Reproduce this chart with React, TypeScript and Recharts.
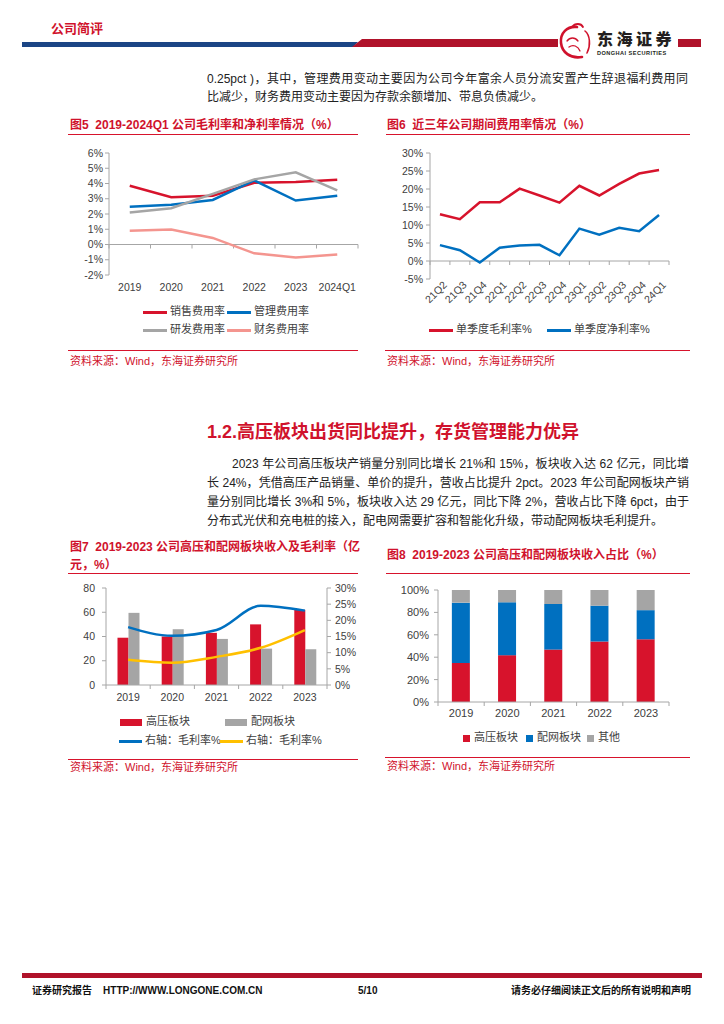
import React from 'react';
import { LineChart, Line, XAxis, YAxis, ReferenceLine, ComposedChart, Bar, BarChart } from 'recharts';

const FONT = '"Liberation Sans", Arial, "Noto Sans CJK SC", sans-serif';
const TITLE_RED = '#d0122c';
const DARK_RED = '#b0122a';
const NAVY = '#1b4585';
const C_RED = '#d7132c';
const C_BLUE = '#0070c0';
const C_GRAY = '#a5a5a5';
const C_PINK = '#f4958f';
const C_YELLOW = '#ffc000';
const AXIS = '#a6a6a6';
const TXT = '#404040';

// 图5 期间费用率
const years5 = ['2019', '2020', '2021', '2022', '2023', '2024Q1'];
const sales5 = [3.85, 3.1, 3.2, 4.05, 4.1, 4.25];
const admin5 = [2.48, 2.6, 2.92, 4.2, 2.88, 3.2];
const rd5 = [2.1, 2.38, 3.32, 4.27, 4.73, 3.55];
const fin5 = [0.9, 0.98, 0.43, -0.58, -0.85, -0.66];
const ticks5 = [-2, -1, 0, 1, 2, 3, 4, 5, 6];

// 图6 单季度毛利率/净利率
const quarters6 = ['21Q2', '21Q3', '21Q4', '22Q1', '22Q2', '22Q3', '22Q4', '23Q1', '23Q2', '23Q3', '23Q4', '24Q1'];
const gross6 = [13.0, 11.6, 16.3, 16.3, 20.1, 18.2, 16.2, 20.9, 18.2, 21.4, 24.3, 25.3];
const net6 = [4.4, 3.0, -0.4, 3.7, 4.3, 4.5, 1.6, 9.0, 7.3, 9.2, 8.3, 12.8];
const ticks6 = [-5, 0, 5, 10, 15, 20, 25, 30];

// 图7 高压/配网板块收入(亿元)及毛利率
const years7 = ['2019', '2020', '2021', '2022', '2023'];
const hv7 = [39, 40, 43, 50, 62];
const dist7 = [59.5, 46, 38, 30, 29.5];
const hvMargin7 = [17.9, 15.2, 17.0, 24.5, 23.0];
const distMargin7 = [7.8, 6.9, 8.7, 11.5, 17.0];
const ticksL7 = [0, 20, 40, 60, 80];
const ticksR7 = [0, 5, 10, 15, 20, 25, 30];

// 图8 收入占比
const hvShare8 = [34.8, 41.8, 46.8, 54, 56];
const distShare8 = [53.9, 47.2, 40.7, 32, 26];
const otherShare8 = [11.3, 11, 12.5, 14, 18];
const ticks8 = [0, 20, 40, 60, 80, 100];

const data5 = years5.map((year, i) => ({ year, sales: sales5[i], admin: admin5[i], rd: rd5[i], fin: fin5[i] }));
const data6 = quarters6.map((q, i) => ({ q, gross: gross6[i], net: net6[i] }));
const data7 = years7.map((year, i) => ({ year, hv: hv7[i], dist: dist7[i], hvM: hvMargin7[i], distM: distMargin7[i] }));
const data8 = years7.map((year, i) => ({ year, hv: hvShare8[i], dist: distShare8[i], other: otherShare8[i] }));

const TICK = { fill: TXT, fontSize: 10.5, fontFamily: FONT };

// category axis line with tick marks between categories (like excel)
const bandAxis = (count: number, len: number) => (props: any) => {
  const { x1, x2, y1 } = props;
  const step = (x2 - x1) / count;
  return (
    <g>
      <line x1={x1} x2={x2} y1={y1} y2={y1} stroke={AXIS} strokeWidth={1} />
      {Array.from({ length: count + 1 }, (_, i) => (
        <line key={i} x1={x1 + i * step} x2={x1 + i * step} y1={y1} y2={y1 + len} stroke={AXIS} strokeWidth={1} />
      ))}
    </g>
  );
};

const RotTick = (props: any) => {
  const { x, y, payload } = props;
  return (
    <g transform={`translate(${x + 5},${y})`}>
      <text transform="rotate(-45)" textAnchor="end" dy="0.35em" fontSize={10.5} fill={TXT} fontFamily={FONT}>
        {payload.value}
      </text>
    </g>
  );
};

const T: React.FC<{ x: number; cy: number; size: number; color?: string; bold?: boolean; w?: number; children: React.ReactNode }> = ({ x, cy, size, color = '#222', bold, w, children }) => (
  <div
    style={{
      position: 'absolute',
      left: x,
      top: cy - size * 0.7,
      fontSize: size,
      lineHeight: `${size * 1.4}px`,
      color,
      fontWeight: bold ? 700 : 400,
      whiteSpace: 'nowrap',
      width: w,
      textAlign: w ? 'justify' : 'left',
      textAlignLast: w ? 'justify' : 'auto',
    } as React.CSSProperties}
  >
    {children}
  </div>
);

const HLine: React.FC<{ x1: number; x2: number; y: number; color?: string; h?: number }> = ({ x1, x2, y, color = C_RED, h = 1 }) => (
  <div style={{ position: 'absolute', left: x1, top: y, width: x2 - x1, height: h, background: color }} />
);

const LegLine: React.FC<{ x: number; cy: number; color: string; label: string; w?: number }> = ({ x, cy, color, label, w = 24 }) => (
  <>
    <div style={{ position: 'absolute', left: x, top: cy - 1.5, width: w, height: 3, background: color }} />
    <T x={x + w + 3} cy={cy} size={11} color={TXT}>{label}</T>
  </>
);

const LegBox: React.FC<{ x: number; cy: number; color: string; label: string; w: number; h: number; gap?: number }> = ({ x, cy, color, label, w, h, gap = 4 }) => (
  <>
    <div style={{ position: 'absolute', left: x, top: cy - h / 2, width: w, height: h, background: color }} />
    <T x={x + w + gap} cy={cy} size={11} color={TXT}>{label}</T>
  </>
);

const Source: React.FC<{ x: number; x2: number; lineY: number; cy: number }> = ({ x, x2, lineY, cy }) => (
  <>
    <HLine x1={x - 2} x2={x2} y={lineY} />
    <T x={x} cy={cy} size={11} color={TITLE_RED}>资料来源：Wind，东海证券研究所</T>
  </>
);

const App: React.FC = () => {
  return (
    <div style={{ position: 'absolute', left: 0, top: 0, width: 724, height: 1024, background: '#fff', fontFamily: FONT, overflow: 'hidden' }}>
      {/* header */}
      <T x={51} cy={29} size={13} bold color={TITLE_RED}>公司简评</T>
      <svg style={{ position: 'absolute', left: 0, top: 0 }} width={724} height={64}>
        <polygon points="22,42 358,42 353,47 22,47" fill={NAVY} />
        <polygon points="362,39 558,39 558,47 352,47" fill={DARK_RED} />
        <polygon points="678,39 701,39 701,47 678,47" fill={DARK_RED} />
        <g transform="translate(556,22)" fill="none" stroke="#d0122c" strokeLinecap="round">
          <path d="M21 5 C11 4 4 11 5 21 C6 30 14 37 26 35" strokeWidth={2.6} />
          <path d="M16 5 C19 1 25 1 27 5" strokeWidth={1.8} />
          <path d="M29 9 C34 13 35 23 31 31" strokeWidth={1.6} />
          <path d="M11 19 C14 15 19 15 22 19" strokeWidth={1.3} />
          <path d="M13 25 C17 22 22 24 24 29" strokeWidth={1.3} />
        </g>
      </svg>
      <T x={597} cy={38} size={16} bold color="#231f20"><span style={{ letterSpacing: 3.5, fontFamily: '"Noto Sans CJK SC", sans-serif', fontWeight: 900 }}>东海证券</span></T>
      <T x={597} cy={53.5} size={5.6} bold color="#231f20"><span style={{ letterSpacing: 0.45 }}>DONGHAI SECURITIES</span></T>

      {/* upper paragraph */}
      <T x={207} cy={79} size={12} w={481}>0.25pct )，其中，管理费用变动主要因为公司今年富余人员分流安置产生辞退福利费用同</T>
      <T x={207} cy={97} size={12}>比减少，财务费用变动主要因为存款余额增加、带息负债减少。</T>

      {/* 图5 */}
      <T x={70} cy={125} size={12} bold color={TITLE_RED}>图5&nbsp;&nbsp;2019-2024Q1 公司毛利率和净利率情况（%）</T>
      <HLine x1={68} x2={358} y={134} />
      <div style={{ position: 'absolute', left: 60, top: 140 }}>
        <LineChart width={310} height={160} data={data5} margin={{ top: 13, right: 12, bottom: 0, left: 0 }}>
          <XAxis dataKey="year" scale="band" axisLine={false} tickLine={false} tick={TICK} tickSize={0} tickMargin={9} height={25} interval={0} />
          <YAxis domain={[-2, 6]} ticks={ticks5} interval={0} tickFormatter={(v) => `${v}%`} width={49} axisLine={{ stroke: AXIS }} tickLine={{ stroke: AXIS }} tickSize={4} tickMargin={2} tick={TICK} />
          <ReferenceLine y={0} shape={bandAxis(years5.length, 4)} />
          <Line dataKey="sales" type="linear" stroke={C_RED} strokeWidth={2.5} dot={false} isAnimationActive={false} />
          <Line dataKey="admin" type="linear" stroke={C_BLUE} strokeWidth={2.5} dot={false} isAnimationActive={false} />
          <Line dataKey="rd" type="linear" stroke={C_GRAY} strokeWidth={2.5} dot={false} isAnimationActive={false} />
          <Line dataKey="fin" type="linear" stroke={C_PINK} strokeWidth={2.5} dot={false} isAnimationActive={false} />
        </LineChart>
      </div>
      <LegLine x={143} cy={312} color={C_RED} label="销售费用率" />
      <LegLine x={227} cy={312} color={C_BLUE} label="管理费用率" />
      <LegLine x={143} cy={330} color={C_GRAY} label="研发费用率" />
      <LegLine x={227} cy={330} color={C_PINK} label="财务费用率" />
      <Source x={70} x2={358} lineY={350} cy={362} />

      {/* 图6 */}
      <T x={387} cy={125} size={12} bold color={TITLE_RED}>图6&nbsp;&nbsp;近三年公司期间费用率情况（%）</T>
      <HLine x1={386} x2={690} y={134} />
      <div style={{ position: 'absolute', left: 380, top: 140 }}>
        <LineChart width={300} height={179} data={data6} margin={{ top: 13, right: 11, bottom: 0, left: 0 }}>
          <XAxis dataKey="q" scale="band" axisLine={false} tickLine={false} tick={(p: any) => <RotTick {...p} />} tickSize={0} tickMargin={4} height={40} interval={0} />
          <YAxis domain={[-5, 30]} ticks={ticks6} interval={0} tickFormatter={(v) => `${v}%`} width={50} axisLine={{ stroke: AXIS }} tickLine={{ stroke: AXIS }} tickSize={4} tickMargin={3} tick={TICK} />
          <ReferenceLine y={0} shape={bandAxis(quarters6.length, 4)} />
          <Line dataKey="gross" type="linear" stroke={C_RED} strokeWidth={2.5} dot={false} isAnimationActive={false} />
          <Line dataKey="net" type="linear" stroke={C_BLUE} strokeWidth={2.5} dot={false} isAnimationActive={false} />
        </LineChart>
      </div>
      <LegLine x={429} cy={330} color={C_RED} label="单季度毛利率%" />
      <LegLine x={547} cy={330} color={C_BLUE} label="单季度净利率%" />
      <Source x={387} x2={690} lineY={350} cy={362} />

      {/* section heading + paragraph */}
      <T x={207} cy={433} size={18} bold color={TITLE_RED}>1.2.高压板块出货同比提升，存货管理能力优异</T>
      <T x={232} cy={464} size={12} w={457}>2023 年公司高压板块产销量分别同比增长 21%和 15%，板块收入达 62 亿元，同比增</T>
      <T x={207} cy={483} size={12} w={482}>长 24%，凭借高压产品销量、单价的提升，营收占比提升 2pct。2023 年公司配网板块产销</T>
      <T x={207} cy={502} size={12} w={482}>量分别同比增长 3%和 5%，板块收入达 29 亿元，同比下降 2%，营收占比下降 6pct，由于</T>
      <T x={207} cy={521} size={12}>分布式光伏和充电桩的接入，配电网需要扩容和智能化升级，带动配网板块毛利提升。</T>

      {/* 图7 */}
      <T x={70} cy={547} size={12} bold color={TITLE_RED}>图7&nbsp;&nbsp;2019-2023 公司高压和配网板块收入及毛利率（亿</T>
      <T x={70} cy={565} size={12} bold color={TITLE_RED}>元，%）</T>
      <HLine x1={68} x2={358} y={573} />
      <div style={{ position: 'absolute', left: 60, top: 578 }}>
        <ComposedChart width={310} height={127} data={data7} margin={{ top: 10, right: 0, bottom: 0, left: 0 }} barCategoryGap="26%" barGap={0}>
          <XAxis dataKey="year" axisLine={false} tickLine={false} tick={TICK} tickSize={0} tickMargin={9} height={20} interval={0} />
          <YAxis yAxisId="l" domain={[0, 80]} ticks={ticksL7} interval={0} width={46} axisLine={{ stroke: AXIS }} tickLine={{ stroke: AXIS }} tickSize={4} tickMargin={7} tick={TICK} />
          <YAxis yAxisId="r" orientation="right" domain={[0, 30]} ticks={ticksR7} interval={0} tickFormatter={(v) => `${v}%`} width={43} axisLine={{ stroke: AXIS }} tickLine={{ stroke: AXIS }} tickSize={4} tickMargin={4} tick={TICK} />
          <ReferenceLine yAxisId="l" y={0} shape={bandAxis(years7.length, 4)} />
          <Bar yAxisId="l" dataKey="hv" fill={C_RED} isAnimationActive={false} />
          <Bar yAxisId="l" dataKey="dist" fill={C_GRAY} isAnimationActive={false} />
          <Line yAxisId="r" dataKey="hvM" type="monotone" stroke={C_BLUE} strokeWidth={2.5} dot={false} isAnimationActive={false} />
          <Line yAxisId="r" dataKey="distM" type="monotone" stroke={C_YELLOW} strokeWidth={2.5} dot={false} isAnimationActive={false} />
        </ComposedChart>
      </div>
      <LegBox x={120} cy={722} color={C_RED} label="高压板块" w={22} h={7} />
      <LegBox x={225} cy={722} color={C_GRAY} label="配网板块" w={22} h={7} />
      <LegLine x={119} cy={741} color={C_BLUE} label="右轴：毛利率%" w={23} />
      <LegLine x={220} cy={741} color={C_YELLOW} label="右轴：毛利率%" w={23} />
      <Source x={70} x2={358} lineY={759} cy={768} />

      {/* 图8 */}
      <T x={387} cy={555} size={12} bold color={TITLE_RED}>图8&nbsp;&nbsp;2019-2023 公司高压和配网板块收入占比（%）</T>
      <HLine x1={386} x2={690} y={573} />
      <div style={{ position: 'absolute', left: 380, top: 578 }}>
        <BarChart width={300} height={144} data={data8} margin={{ top: 12, right: 11, bottom: 0, left: 0 }} barCategoryGap="30%">
          <XAxis dataKey="year" axisLine={false} tickLine={false} tick={{ ...TICK, fontSize: 11 }} tickSize={0} tickMargin={7} height={20} interval={0} />
          <YAxis domain={[0, 100]} ticks={ticks8} interval={0} tickFormatter={(v) => `${v}%`} width={58} axisLine={{ stroke: AXIS }} tickLine={{ stroke: AXIS }} tickSize={4} tickMargin={5} tick={{ ...TICK, fontSize: 11 }} />
          <ReferenceLine y={0} shape={bandAxis(years7.length, 4)} />
          <Bar dataKey="hv" stackId="s" fill={C_RED} isAnimationActive={false} />
          <Bar dataKey="dist" stackId="s" fill={C_BLUE} isAnimationActive={false} />
          <Bar dataKey="other" stackId="s" fill={C_GRAY} isAnimationActive={false} />
        </BarChart>
      </div>
      <LegBox x={463} cy={738} color={C_RED} label="高压板块" w={7} h={7} gap={4} />
      <LegBox x={526} cy={738} color={C_BLUE} label="配网板块" w={7} h={7} gap={4} />
      <LegBox x={587} cy={738} color={C_GRAY} label="其他" w={7} h={7} gap={4} />
      <Source x={387} x2={690} lineY={757} cy={767} />

      {/* footer */}
      <HLine x1={22} x2={702} y={973} h={5} color={DARK_RED} />
      <T x={32} cy={991} size={10} bold color="#111">证券研究报告&nbsp;&nbsp;&nbsp;&nbsp;HTTP://WWW.LONGONE.COM.CN</T>
      <T x={358} cy={991} size={10} bold color="#111">5/10</T>
      <T x={511} cy={991} size={10} bold color="#111">请务必仔细阅读正文后的所有说明和声明</T>
    </div>
  );
};

export default App;
